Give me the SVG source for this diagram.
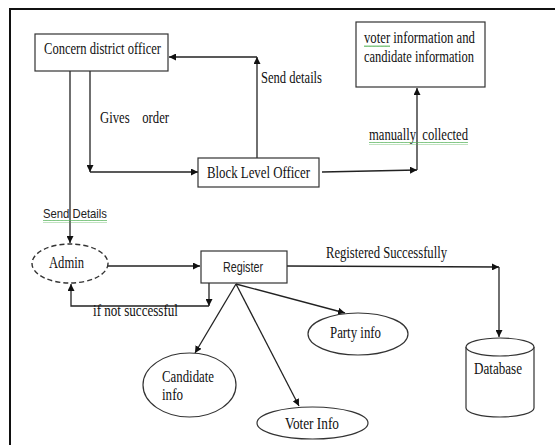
<svg xmlns="http://www.w3.org/2000/svg" width="555" height="445" viewBox="0 0 555 445">
<defs>
<marker id="ah" viewBox="0 0 10 10" refX="10" refY="5" markerWidth="7" markerHeight="7" markerUnits="userSpaceOnUse" orient="auto">
<path d="M0,0 L10,5 L0,10 z" fill="#111"/>
</marker>
<pattern id="wave" width="4" height="3" patternUnits="userSpaceOnUse">
<path d="M0,2 L1,0.5 L2,2 L3,0.5 L4,2" fill="none" stroke="#4caf50" stroke-width="0.8"/>
</pattern>
</defs>
<style>
.box{fill:#fff;stroke:#333;stroke-width:1.2}
.ser{font-family:"Liberation Serif","Times New Roman",serif;font-size:16.5px;fill:#111}
.san{font-family:"Liberation Sans",Arial,sans-serif;font-size:13px;fill:#222}
.con{fill:none;stroke:#222;stroke-width:1.3}
.arr{marker-end:url(#ah)}
.wv{fill:url(#wave)}
</style>
<rect x="0" y="0" width="555" height="445" fill="#fff"/>
<path d="M10,445 L10,9 L555,9" fill="none" stroke="#111" stroke-width="2"/>

<g id="connectors">
<line class="con arr" x1="70" y1="71" x2="70" y2="243"/>
<line class="con arr" x1="90" y1="71" x2="90" y2="172"/>
<line class="con arr" x1="90" y1="172" x2="198" y2="172"/>
<line class="con arr" x1="257" y1="158" x2="257" y2="57"/>
<line class="con arr" x1="257" y1="57" x2="169" y2="57"/>
<line class="con arr" x1="322" y1="172" x2="417" y2="170"/>
<line class="con arr" x1="417" y1="170" x2="417" y2="88"/>
<line class="con arr" x1="108" y1="266" x2="200" y2="266"/>
<line class="con arr" x1="209" y1="283" x2="209" y2="306"/>
<polyline class="con arr" points="209,306 71,306 71,284"/>
<line class="con arr" x1="287" y1="266" x2="499" y2="267"/>
<line class="con arr" x1="499" y1="267" x2="499" y2="337"/>
<line class="con arr" x1="236" y1="284" x2="195" y2="353"/>
<line class="con arr" x1="236" y1="284" x2="299" y2="406"/>
<line class="con arr" x1="236" y1="284" x2="345" y2="313"/>
<text class="ser" x="100" y="123" textLength="69" lengthAdjust="spacingAndGlyphs" xml:space="preserve">Gives    order</text>
<text class="ser" x="261" y="83" textLength="61" lengthAdjust="spacingAndGlyphs">Send details</text>
<text class="ser" x="369" y="140" textLength="99" lengthAdjust="spacingAndGlyphs" xml:space="preserve">manually  collected</text>
<rect class="wv" x="369" y="142" width="99" height="3"/>
<text class="san" x="43" y="218" textLength="64" lengthAdjust="spacingAndGlyphs">Send Details</text>
<rect class="wv" x="43" y="220" width="64" height="3"/>
<text class="ser" x="93" y="316" textLength="85" lengthAdjust="spacingAndGlyphs">if not successful</text>
<text class="ser" x="326" y="258" textLength="121" lengthAdjust="spacingAndGlyphs">Registered Successfully</text>
</g>

<g id="concern-district-officer">
<rect class="box" x="35" y="34" width="133" height="37"/>
<text class="ser" x="44" y="54" textLength="117" lengthAdjust="spacingAndGlyphs">Concern district officer</text>
</g>

<g id="block-level-officer">
<rect class="box" x="198" y="158" width="121" height="29"/>
<text class="ser" x="207" y="178" textLength="103" lengthAdjust="spacingAndGlyphs">Block Level Officer</text>
</g>

<g id="voter-candidate-information">
<rect class="box" x="356" y="22" width="129" height="65"/>
<text class="ser" x="364" y="43" textLength="111" lengthAdjust="spacingAndGlyphs">voter information and</text>
<rect class="wv" x="364" y="45" width="26" height="3"/>
<text class="ser" x="364" y="62" textLength="110" lengthAdjust="spacingAndGlyphs">candidate information</text>
</g>

<g id="admin">
<ellipse cx="70" cy="263.5" rx="38" ry="19.5" fill="#fff" stroke="#333" stroke-width="1.4" stroke-dasharray="5,3"/>
<text class="ser" x="49" y="268" textLength="35" lengthAdjust="spacingAndGlyphs">Admin</text>
</g>

<g id="register">
<rect class="box" x="201" y="251" width="86" height="32"/>
<text class="san" x="223" y="272" textLength="40" lengthAdjust="spacingAndGlyphs" style="font-size:14px">Register</text>
</g>

<g id="party-info">
<ellipse cx="358" cy="334" rx="50" ry="21" fill="#fff" stroke="#333" stroke-width="1.2"/>
<text class="ser" x="330" y="338" textLength="51" lengthAdjust="spacingAndGlyphs">Party info</text>
</g>

<g id="candidate-info">
<ellipse cx="189.5" cy="385" rx="46.5" ry="32" fill="#fff" stroke="#333" stroke-width="1.2"/>
<text class="ser" x="162" y="382" textLength="52" lengthAdjust="spacingAndGlyphs">Candidate</text>
<text class="ser" x="162" y="400" textLength="21" lengthAdjust="spacingAndGlyphs">info</text>
</g>

<g id="voter-info">
<ellipse cx="312.5" cy="423" rx="55.5" ry="16" fill="#fff" stroke="#333" stroke-width="1.2"/>
<text class="ser" x="285" y="429" textLength="54" lengthAdjust="spacingAndGlyphs">Voter Info</text>
</g>

<g id="database">
<path d="M466,347 L466,408 A34,9 0 0 0 534,408 L534,347" fill="#fff" stroke="#333" stroke-width="1.2"/>
<ellipse cx="500" cy="347" rx="34" ry="9" fill="#fff" stroke="#333" stroke-width="1.2"/>
<text class="ser" x="474" y="374" textLength="48" lengthAdjust="spacingAndGlyphs">Database</text>
</g>
</svg>
